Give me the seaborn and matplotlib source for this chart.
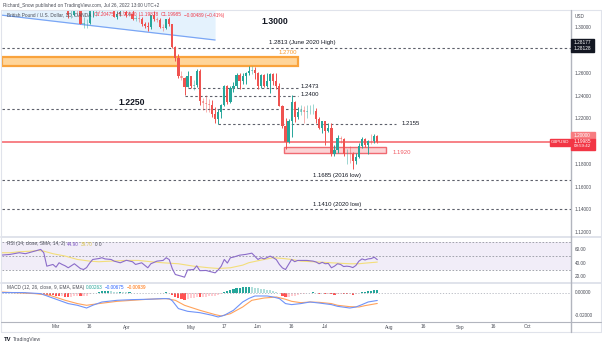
import numpy as np
import pandas as pd
import matplotlib
matplotlib.use("Agg")
import matplotlib.pyplot as plt
import matplotlib.transforms as mtransforms
from matplotlib.patches import Rectangle
from matplotlib.lines import Line2D
import seaborn as sns

# ---------------- data ----------------
candle_first_day = "2022-03-01"
opens = [1.3418,1.3286,1.3398,1.3361,1.3230,1.3112,1.3114,1.3186,1.3168,1.3035,1.3038,1.3043,1.3147,1.3172,1.3177,1.3168,1.3255,1.3190,1.3194,1.3186,1.3094,1.3116,1.3140,
         1.3138,1.3113,1.3117,1.3072,1.3081,1.3074,1.3035,1.3018,1.3002,1.3110,1.3072,1.3064,1.3003,1.3000,1.3072,1.3031,1.2834,1.2735,1.2576,1.2562,1.2479,
         1.2575,1.2490,1.2497,1.2624,1.2355,1.2338,1.2333,1.2319,1.2243,1.2200,1.2260,1.2319,1.2492,1.2345,1.2469,1.2490,1.2589,1.2532,1.2573,1.2603,1.2623,1.2626,
         1.2600,1.2486,1.2587,1.2490,1.2532,1.2592,1.2533,1.2488,1.2314,1.2135,1.2000,1.2178,1.2346,1.2218,1.2261,1.2274,1.2262,1.2267,1.2267,1.2268,1.2195,1.2120,
         1.2177,1.2097,1.2117,1.1893,1.1924,1.2031,1.2026,1.1891,1.1893,1.1892,1.1829,1.1869,1.1958,1.2024,1.1972,1.2004,1.2002,1.20475]
highs = [1.3438,1.3401,1.3436,1.3365,1.3234,1.3186,1.3193,1.3208,1.3180,1.3093,1.3074,1.3158,1.3210,1.3183,1.3200,1.3262,1.3298,1.3223,1.3232,1.3186,1.3148,1.3176,1.3175,
         1.3160,1.3143,1.3155,1.3110,1.3108,1.3098,1.3051,1.3052,1.3110,1.3148,1.3090,1.3084,1.3033,1.3078,1.3090,1.3032,1.2839,1.2771,1.2620,1.2570,1.2620,
         1.2578,1.2543,1.2638,1.2638,1.2385,1.2406,1.2375,1.2366,1.2300,1.2287,1.2330,1.2500,1.2498,1.2488,1.2525,1.2600,1.2598,1.2599,1.2615,1.2667,1.2665,1.2657,
         1.2610,1.2595,1.2590,1.2599,1.2598,1.2600,1.2600,1.2512,1.2325,1.2205,1.2200,1.2406,1.2356,1.2303,1.2324,1.2314,1.2324,1.2324,1.2332,1.2294,1.2220,1.2178,
         1.2182,1.2164,1.2166,1.1967,1.2056,1.2053,1.2032,1.1937,1.1965,1.1905,1.1900,1.1988,1.2037,1.2035,1.2010,1.2064,1.2063,1.2056]
lows = [1.3274,1.3272,1.3347,1.3219,1.3088,1.3083,1.3101,1.3107,1.3030,1.3000,1.3000,1.3035,1.3096,1.3105,1.3125,1.3148,1.3185,1.3160,1.3154,1.3090,1.3074,1.3102,1.3118,
        1.3093,1.3100,1.3067,1.3060,1.3053,1.3013,1.2996,1.2975,1.2991,1.3058,1.3049,1.2996,1.2974,1.2990,1.3011,1.2824,1.2705,1.2557,1.2540,1.2410,1.2477,
        1.2467,1.2454,1.2475,1.2325,1.2276,1.2261,1.2260,1.2215,1.2166,1.2155,1.2209,1.2316,1.2333,1.2336,1.2432,1.2474,1.2466,1.2508,1.2510,1.2582,1.2594,1.2550,
        1.2460,1.2470,1.2478,1.2480,1.2425,1.2500,1.2466,1.2311,1.2118,1.1933,1.1992,1.2042,1.2170,1.2199,1.2230,1.2161,1.2208,1.2245,1.2238,1.2161,1.2107,1.2077,
        1.1974,1.2082,1.1876,1.1873,1.1901,1.1987,1.1873,1.1807,1.1809,1.1760,1.1806,1.1858,1.1945,1.1950,1.1890,1.1975,1.1985,1.19878]
closes = [1.3286,1.3398,1.3361,1.3230,1.3112,1.3114,1.3186,1.3168,1.3035,1.3038,1.3043,1.3147,1.3172,1.3177,1.3168,1.3255,1.3190,1.3194,1.3186,1.3094,1.3116,1.3140,1.3138,
          1.3113,1.3117,1.3072,1.3081,1.3074,1.3035,1.3018,1.3002,1.3110,1.3072,1.3064,1.3003,1.3000,1.3072,1.3031,1.2834,1.2735,1.2576,1.2562,1.2479,1.2575,
          1.2490,1.2497,1.2624,1.2355,1.2338,1.2333,1.2319,1.2243,1.2200,1.2260,1.2319,1.2492,1.2345,1.2469,1.2490,1.2589,1.2532,1.2573,1.2603,1.2623,1.2626,1.2600,
          1.2486,1.2587,1.2490,1.2532,1.2592,1.2533,1.2488,1.2314,1.2135,1.2000,1.2178,1.2346,1.2218,1.2261,1.2274,1.2262,1.2267,1.2267,1.2268,1.2195,1.2120,1.2177,
          1.2097,1.2117,1.1893,1.1924,1.2031,1.2026,1.1891,1.1893,1.1892,1.1829,1.1869,1.1958,1.2024,1.1972,1.2004,1.2002,1.2047,1.19985]

rsi_dates = ["2022-02-03","2022-02-08","2022-02-11","2022-02-15","2022-02-18","2022-02-22","2022-02-23","2022-02-24","2022-02-28",
             "2022-03-01","2022-03-02","2022-03-03","2022-03-04","2022-03-07","2022-03-09","2022-03-11","2022-03-14","2022-03-15","2022-03-16","2022-03-17",
             "2022-03-21","2022-03-22","2022-03-23","2022-03-25","2022-03-28","2022-03-30",
             "2022-04-01","2022-04-05","2022-04-06","2022-04-08","2022-04-12","2022-04-13","2022-04-15","2022-04-19","2022-04-20","2022-04-21","2022-04-22",
             "2022-04-25","2022-04-27","2022-04-28","2022-04-29",
             "2022-05-03","2022-05-04","2022-05-05","2022-05-09","2022-05-12","2022-05-13","2022-05-16","2022-05-17","2022-05-18","2022-05-19","2022-05-20",
             "2022-05-24","2022-05-26","2022-05-30",
             "2022-06-01","2022-06-02","2022-06-03","2022-06-07","2022-06-08","2022-06-09","2022-06-10","2022-06-13","2022-06-14","2022-06-15","2022-06-16",
             "2022-06-17","2022-06-20","2022-06-21","2022-06-23","2022-06-27","2022-06-28","2022-06-29","2022-06-30",
             "2022-07-01","2022-07-04","2022-07-05","2022-07-06","2022-07-07","2022-07-08","2022-07-11","2022-07-12","2022-07-13","2022-07-14","2022-07-15",
             "2022-07-18","2022-07-19","2022-07-20","2022-07-21","2022-07-22","2022-07-25","2022-07-26"]
rsi_values = [51.4,52.5,54.9,53.5,57.2,59.7,54.9,35.5,38.0,
              34.1,40.4,38.0,36.0,33.2,39.0,32.0,30.7,33.5,40.0,45.2,
              46.5,47.7,46.0,45.2,42.8,40.4,
              44.0,41.9,38.0,40.4,33.2,39.0,42.8,43.8,47.7,45.0,32.0,
              23.5,21.0,19.6,30.0,
              30.7,36.0,29.0,29.3,25.9,30.0,35.5,45.2,40.0,47.7,48.6,
              51.4,52.5,54.3,
              45.2,47.7,46.0,50.0,47.7,45.0,38.0,33.0,30.7,38.0,45.2,
              42.0,43.8,43.8,43.8,42.8,41.5,39.0,41.0,
              39.0,39.5,33.2,35.5,39.0,38.0,35.0,35.5,35.0,33.5,36.5,
              42.8,46.0,44.5,46.0,46.5,48.5,44.9]

rsi_ma_dates = ["2022-02-03","2022-02-08","2022-02-11","2022-02-17","2022-02-21","2022-02-23","2022-02-28","2022-03-04","2022-03-10",
                "2022-03-16","2022-03-21","2022-03-25","2022-04-01","2022-04-07","2022-04-13","2022-04-19","2022-04-26","2022-05-03",
                "2022-05-10","2022-05-13","2022-05-19","2022-05-25","2022-05-27","2022-06-03","2022-06-08","2022-06-13","2022-06-16",
                "2022-06-21","2022-06-27","2022-07-01","2022-07-07","2022-07-13","2022-07-18","2022-07-20","2022-07-26"]
rsi_ma_values = [54.9,54.9,56.3,57.2,58.2,57.2,53.5,50.1,45.2,
                 42.8,41.9,42.8,43.8,43.8,41.9,40.4,39.0,35.5,
                 33.2,32.2,33.2,37.0,40.5,45.2,47.7,46.7,45.2,
                 42.8,41.9,40.9,39.9,39.0,39.0,39.9,41.4]

macd_dates = ["2022-02-03","2022-02-14","2022-02-22","2022-02-25","2022-03-02","2022-03-07","2022-03-10","2022-03-15","2022-03-17",
              "2022-03-22","2022-03-29","2022-04-05","2022-04-12","2022-04-19","2022-04-21","2022-04-22","2022-04-26","2022-04-29",
              "2022-05-05","2022-05-11","2022-05-13","2022-05-17","2022-05-20","2022-05-25","2022-05-27","2022-05-31","2022-06-06",
              "2022-06-08","2022-06-10","2022-06-14","2022-06-16","2022-06-21","2022-06-24","2022-06-29","2022-07-05","2022-07-07",
              "2022-07-13","2022-07-15","2022-07-19","2022-07-21","2022-07-26"]
macd_values = [0.0002,0.0002,-0.0007,-0.0037,-0.0066,-0.0095,-0.0110,-0.0134,-0.0110,
               -0.0081,-0.0066,-0.0060,-0.0057,-0.0051,-0.0052,-0.0070,-0.0139,-0.0163,
               -0.0175,-0.0198,-0.0213,-0.0198,-0.0154,-0.0081,-0.0050,-0.0028,-0.0028,
               -0.0037,-0.0051,-0.0095,-0.0104,-0.0095,-0.0081,-0.0090,-0.0104,-0.0119,
               -0.0134,-0.0125,-0.0104,-0.0081,-0.00675]

signal_dates = ["2022-02-03","2022-02-18","2022-02-25","2022-03-04","2022-03-10","2022-03-15","2022-03-21","2022-03-29","2022-04-05",
                "2022-04-12","2022-04-20","2022-04-25","2022-04-28","2022-05-05","2022-05-12","2022-05-16","2022-05-19","2022-05-25",
                "2022-05-30","2022-06-03","2022-06-09","2022-06-14","2022-06-16","2022-06-21","2022-06-24","2022-06-29","2022-07-05",
                "2022-07-07","2022-07-13","2022-07-18","2022-07-20","2022-07-26"]
signal_values = [0.0007,-0.0007,-0.0022,-0.0066,-0.0095,-0.0110,-0.0095,-0.0075,-0.0066,
                 -0.0057,-0.0051,-0.0066,-0.0110,-0.0154,-0.0192,-0.0204,-0.0184,-0.0125,
                 -0.0066,-0.0046,-0.0037,-0.0057,-0.0075,-0.0087,-0.0081,-0.0084,-0.0095,
                 -0.0110,-0.0122,-0.0125,-0.0113,-0.00939]

hist_first_day = "2022-02-03"
hist_values = [-0.0005,-0.0004,-0.0003,-0.0002,0.0000,0.0002,0.0003,0.0004,0.0003,0.0002,0.0001,-0.0001,-0.0003,-0.0006,-0.0010,-0.0016,-0.0018,-0.0022,
               -0.0028,-0.0030,-0.0030,-0.0034,-0.0038,-0.0036,-0.0032,-0.0028,-0.0030,-0.0028,-0.0024,-0.0014,-0.0006,0.0000,0.0004,0.0012,0.0013,0.0013,0.0012,0.0008,0.0007,0.0007,0.0006,
               0.0004,0.0004,0.0002,0.0001,0.0000,-0.0002,-0.0003,-0.0004,0.0001,0.0002,0.0002,0.0000,-0.0001,0.0003,0.0002,-0.0016,-0.0034,-0.0048,-0.0054,-0.0060,-0.0054,
               -0.0050,-0.0044,-0.0034,-0.0040,-0.0038,-0.0034,-0.0030,-0.0030,-0.0028,-0.0020,-0.0010,0.0008,0.0012,0.0022,0.0030,0.0040,0.0044,0.0048,0.0050,0.0052,0.0051,0.0046,
               0.0038,0.0036,0.0030,0.0026,0.0024,0.0018,0.0010,-0.0004,-0.0024,-0.0040,-0.0038,-0.0026,-0.0024,-0.0018,-0.0012,-0.0010,-0.0006,0.0002,0.0004,-0.0004,-0.0008,-0.0006,
               -0.0008,-0.0007,-0.0014,-0.0016,-0.0010,-0.0008,-0.0012,-0.0014,-0.0014,-0.0016,-0.0012,-0.0004,0.0008,0.0010,0.0016,0.0020,0.0026,0.00263]

trend_dates = ["2022-02-03", "2022-05-12"]
trend_prices = [1.3111, 1.2892]

price_ticks = [1.30, 1.26, 1.24, 1.22, 1.18, 1.16, 1.14, 1.12]
rsi_ticks = [60, 40, 20]
macd_ticks = [0.0, -0.02]
tick_dates = ["2022-03-01","2022-03-16","2022-04-01","2022-05-02","2022-05-17","2022-06-01","2022-06-16",
              "2022-07-01","2022-08-01","2022-08-16","2022-09-01","2022-09-16","2022-10-03"]
tick_labels = ["Mar","16","Apr","May","17","Jun","16","Jul","Aug","16","Sep","16","Oct"]

# ---------------- setup ----------------
sns.set_theme(style="white")
plt.rcParams["font.family"] = ["Liberation Sans", "DejaVu Sans"]

W, H = 602, 346
fig = plt.figure(figsize=(W / 100, H / 100), dpi=100)
fig.patch.set_facecolor("white")

def rect(x0, y0, x1, y1):
    return [x0 / W, 1 - y1 / H, (x1 - x0) / W, (y1 - y0) / H]

def P(x, y):
    return x / W, 1 - y / H

cal = pd.bdate_range("2022-02-03", "2022-10-31")
def xi(d):
    return cal.get_loc(pd.Timestamp(d))

X0 = xi("2022-03-01")
PXD = 3.06
xlim = (X0 - (56 - 2) / PXD, X0 + (571 - 56) / PXD)

ax = fig.add_axes(rect(2, 10, 571, 235.5))
ax_rsi = fig.add_axes(rect(2, 237.5, 571, 281.7), sharex=ax)
ax_macd = fig.add_axes(rect(2, 283.5, 571, 321.7), sharex=ax)
for a in (ax, ax_rsi, ax_macd):
    a.set_facecolor("none")
    for s in a.spines.values():
        s.set_visible(False)
    a.tick_params(left=False, bottom=False, labelleft=False, labelbottom=False)
    a.set_xlim(*xlim)

ax.set_ylim(1.11756, 1.31554)
ax_rsi.set_ylim(13.1, 76.9)
ax_macd.set_ylim(-0.02546, 0.0082)

UP, DN = "#26a69a", "#ef5350"
DASH = dict(color="#5d606b", lw=0.8, ls=(0, (2.2, 2.2)))

# ---------------- main price panel ----------------
tx = [xi(d) for d in trend_dates]
ax.fill_between([xlim[0], tx[1]], [trend_prices[0] + (trend_prices[1]-trend_prices[0])*(xlim[0]-tx[0])/(tx[1]-tx[0]), trend_prices[1]],
                [1.31554, 1.31554], color="#2196f3", alpha=0.12, lw=0, zorder=1)
ax.plot(tx, trend_prices, color="#7aa6f5", lw=0.9, zorder=2)

# orange 1.2700 zone
x_end_zone = xi("2022-06-20")
ax.add_patch(Rectangle((xlim[0], 1.2664), x_end_zone - xlim[0], 1.2743 - 1.2664,
                       facecolor="#ffd59a", edgecolor="#f9a33c", lw=1.6, zorder=2))
# red 1.1920 zone
rz0 = xi("2022-06-14") - 0.5
ax.add_patch(Rectangle((rz0, 1.1898), xi("2022-07-29") - rz0, 1.1951 - 1.1898,
                       facecolor="#fbd3d5", edgecolor="#f06a72", lw=1.0, zorder=2))

ax.hlines(1.2825, xlim[0], xlim[1], **DASH, zorder=2)
ax.hlines(1.2473, xi("2022-04-29"), xi("2022-06-20"), **DASH, zorder=2)
ax.hlines(1.2400, xi("2022-04-28"), xi("2022-06-20"), **DASH, zorder=2)
ax.hlines(1.2282, xlim[0], xi("2022-06-21"), **DASH, zorder=2)
ax.hlines(1.2155, xi("2022-05-13"), xi("2022-08-03"), **DASH, zorder=2)
ax.hlines(1.1665, xlim[0], xlim[1], **DASH, zorder=2)
ax.hlines(1.1410, xlim[0], xlim[1], **DASH, zorder=2)
ax.axhline(1.2000, color="#f7777d", lw=1.3, zorder=3)

# candles
cx = np.arange(len(closes)) + xi(candle_first_day)
o, h, l, c = map(np.asarray, (opens, highs, lows, closes))
up = c >= o
pale = np.abs(c - o) < 0.2 * (h - l)
for i in range(len(c)):
    col = UP if up[i] else DN
    al = 0.45 if pale[i] else 1.0
    ax.vlines(cx[i], l[i], h[i], color=col, lw=0.7, alpha=al, zorder=4)
    bot, top = min(o[i], c[i]), max(o[i], c[i])
    ax.bar(cx[i], max(top - bot, 0.00012), bottom=bot, width=0.72, color=col, alpha=al, lw=0, zorder=5)

# price labels on axis
ax_tr = mtransforms.blended_transform_factory(fig.transFigure, ax.transData)
for p in price_ticks:
    ax.text(575 / W, p, f"{p:.5f}", transform=ax_tr, fontsize=3.4, color="#4a4d57", va="center", ha="left")
fig.text(*P(575, 16), "USD", fontsize=3.4, color="#4a4d57", va="center")
fig.patches.append(Rectangle(P(571, 51.5), 23 / W, 13 / H, transform=fig.transFigure, color="#131722", zorder=5))
fig.text(*P(574, 42.5), "1.28177", fontsize=3.4, color="white", va="center", zorder=6)
fig.text(*P(574, 48.5), "1.28128", fontsize=3.4, color="white", va="center", zorder=6)
fig.patches.append(Rectangle(P(571, 138.5), 24 / W, 6 / H, transform=fig.transFigure, color="#f77c80", zorder=5))
fig.patches.append(Rectangle(P(571, 149.5), 24 / W, 11 / H, transform=fig.transFigure, color="#f23645", zorder=5))
fig.text(*P(574, 135.5), "1.20000", fontsize=3.4, color="white", va="center", zorder=6)
fig.text(*P(574, 141.2), "1.19985", fontsize=3.4, color="white", va="center", zorder=6)
fig.text(*P(574, 146.2), "09:59:42", fontsize=3.2, color="white", va="center", zorder=6)
fig.patches.append(Rectangle(P(550, 145.5), 20 / W, 6.5 / H, transform=fig.transFigure, color="#f23645", zorder=5))
fig.text(*P(560, 142.2), "GBPUSD", fontsize=3.2, color="white", va="center", ha="center", zorder=6)

# annotations
fig.text(*P(261.5, 21), "1.3000", fontsize=6.2, fontweight="bold", color="#131722", va="center")
fig.text(*P(118, 103), "1.2250", fontsize=6.2, fontweight="bold", color="#131722", va="center")
fig.text(*P(269, 42.3), "1.2813 (June 2020 High)", fontsize=4.3, color="#131722", va="center")
fig.text(*P(297, 53), "1.2700", fontsize=4.3, color="#f89a2c", va="center", ha="right")
fig.text(*P(301, 87), "1.2473", fontsize=4.3, color="#131722", va="center")
fig.text(*P(301, 94.7), "1.2400", fontsize=4.3, color="#131722", va="center")
fig.text(*P(402, 123.3), "1.2155", fontsize=4.3, color="#131722", va="center")
fig.text(*P(393, 152.3), "1.1920", fontsize=4.3, color="#f05a63", va="center")
fig.text(*P(313, 175), "1.1685 (2016 low)", fontsize=4.3, color="#131722", va="center")
fig.text(*P(313, 204.3), "1.1410 (2020 low)", fontsize=4.3, color="#131722", va="center")

# ---------------- RSI panel ----------------
ax_rsi.axhspan(30, 70, color="#7e57c2", alpha=0.1, lw=0)
for lv in (70, 50, 30):
    ax_rsi.axhline(lv, color="#9598a1", lw=0.6, ls=(0, (2, 2)))
rsi_df = pd.DataFrame({"x": [xi(d) for d in rsi_dates], "v": rsi_values})
ma_df = pd.DataFrame({"x": [xi(d) for d in rsi_ma_dates], "v": rsi_ma_values})
sns.lineplot(data=ma_df, x="x", y="v", ax=ax_rsi, color="#f3de7a", lw=0.8)
sns.lineplot(data=rsi_df, x="x", y="v", ax=ax_rsi, color="#8b6cc9", lw=0.8)
ax_rsi.set_xlabel(""); ax_rsi.set_ylabel("")
r_tr = mtransforms.blended_transform_factory(fig.transFigure, ax_rsi.transData)
for v in rsi_ticks:
    ax_rsi.text(575 / W, v, f"{v:.2f}", transform=r_tr, fontsize=3.4, color="#4a4d57", va="center")

# ---------------- MACD panel ----------------
ax_macd.axhline(0, color="#b2b5be", lw=0.6, ls=(0, (1.5, 2)))
hv = np.asarray(hist_values)
hx = np.arange(len(hv)) + xi(hist_first_day)
hcols = []
for i, v in enumerate(hv):
    prev = hv[i - 1] if i > 0 else v
    if v >= 0:
        hcols.append("#26a69a" if v >= prev else "#b2dfdb")
    else:
        hcols.append("#ff5252" if v < prev else "#ffcdd2")
ax_macd.bar(hx, hv, width=0.7, color=hcols, lw=0)
macd_df = pd.DataFrame({"x": [xi(d) for d in macd_dates], "v": macd_values})
sig_df = pd.DataFrame({"x": [xi(d) for d in signal_dates], "v": signal_values})
sns.lineplot(data=sig_df, x="x", y="v", ax=ax_macd, color="#ffa35c", lw=0.8)
sns.lineplot(data=macd_df, x="x", y="v", ax=ax_macd, color="#6f93f8", lw=0.8)
ax_macd.set_xlabel(""); ax_macd.set_ylabel("")
m_tr = mtransforms.blended_transform_factory(fig.transFigure, ax_macd.transData)
for v in macd_ticks:
    ax_macd.text(575 / W, v, f"{v:.5f}", transform=m_tr, fontsize=3.4, color="#4a4d57", va="center")

# x tick labels
x_tr = mtransforms.blended_transform_factory(ax_macd.transData, fig.transFigure)
for d, lab in zip(tick_dates, tick_labels):
    ax_macd.text(xi(d), 1 - 327 / H, lab, transform=x_tr, fontsize=3.4, color="#4a4d57", ha="center", va="center")

# ---------------- frame lines ----------------
def fline(x0, y0, x1, y1, col, lw):
    fig.lines.append(Line2D([x0 / W, x1 / W], [1 - y0 / H, 1 - y1 / H], transform=fig.transFigure, color=col, lw=lw))

fline(1, 10, 601, 10, "#e0e3eb", 0.8)
fline(1, 332, 601, 332, "#e0e3eb", 0.8)
fline(1, 10, 1, 332, "#e0e3eb", 0.8)
fline(601, 10, 601, 332, "#e0e3eb", 0.8)
fline(1, 236.5, 601, 236.5, "#e0e3eb", 1.4)
fline(1, 282.6, 601, 282.6, "#e0e3eb", 1.4)
fline(1, 322, 601, 322, "#b2b5be", 0.8)
fline(571, 10, 571, 332, "#b2b5be", 1.0)

# ---------------- header texts ----------------
renderer = fig.canvas.get_renderer()
def seq_text(x_px, y_px, parts, size):
    x = x_px
    for s, col in parts:
        t = fig.text(x / W, 1 - y_px / H, s, color=col, fontsize=size, va="center", ha="left", zorder=7)
        x += t.get_window_extent(renderer=renderer).width + 2

fig.text(*P(3, 5.5), "Richard_Snow published on TradingView.com, Jul 26, 2022 13:00 UTC+2",
         fontsize=3.4, color="#4a4d57", va="center")
G, R = "#4a4d57", "#f23645"
seq_text(7, 15, [("British Pound / U.S. Dollar, 1D, OANDA", G), ("O1.20475", R), ("H1.20560", R),
                 ("L1.19878", R), ("C1.19985", R), ("\u22120.00489 (\u22120.41%)", R)], 3.4)
seq_text(7, 244, [("RSI (14, close, SMA, 14, 2)", G), ("44.90", "#7e57c2"), ("39.70", "#d9c24a"),
                  ("0", G), ("0", G)], 3.4)
seq_text(7, 287.5, [("MACD (12, 26, close, 9, EMA, EMA)", G), ("0.00263", "#26a69a"),
                    ("\u22120.00675", "#2962ff"), ("\u22120.00939", "#ff6d00")], 3.4)

fig.text(*P(4, 339.5), "TV", fontsize=4.2, fontweight="bold", color="#131722", va="center")
fig.text(*P(13, 339.5), "TradingView", fontsize=3.6, color="#4a4d57", va="center")

fig.savefig("out.png", dpi=100)
